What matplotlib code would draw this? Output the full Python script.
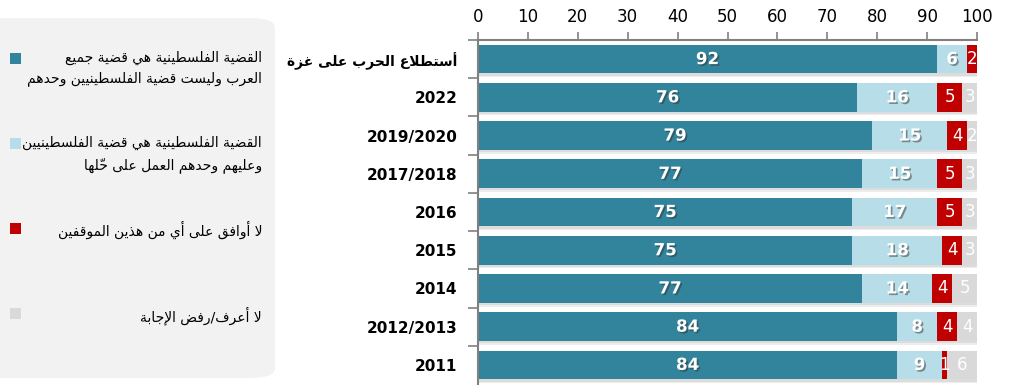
import matplotlib
matplotlib.use('Agg')
import matplotlib.pyplot as plt
from matplotlib import patheffects
from matplotlib.patches import FancyBboxPatch, Rectangle

# data (percent)
categories = ['أستطلاع الحرب على غزة', '2022', '2019/2020', '2017/2018', '2016',
              '2015', '2014', '2012/2013', '2011']
whole_arab = [92, 76, 79, 77, 75, 75, 77, 84, 84]
only_palestinian = [6, 16, 15, 15, 17, 18, 14, 8, 9]
neither = [2, 5, 4, 5, 5, 4, 4, 4, 1]
dont_know = [0, 3, 2, 3, 3, 3, 5, 4, 6]
x_ticks = [0, 10, 20, 30, 40, 50, 60, 70, 80, 90, 100]

legend_labels = [
    'القضية الفلسطينية هي قضية جميع\nالعرب وليست قضية الفلسطينيين وحدهم',
    'القضية الفلسطينية هي قضية الفلسطينيين\nوعليهم وحدهم العمل على حلّها',
    'لا أوافق على أي من هذين الموقفين',
    'لا أعرف/رفض الإجابة',
]
colors = ['#31849B', '#B7DEE8', '#C00000', '#D9D9D9']

# matplotlib has no arabic shaping, so map letters to presentation forms
# (isolated code point, number of forms)
FORMS = {
    'ء': (0xFE80, 1), 'آ': (0xFE81, 2), 'أ': (0xFE83, 2), 'إ': (0xFE87, 2),
    'ا': (0xFE8D, 2), 'ب': (0xFE8F, 4), 'ة': (0xFE93, 2), 'ت': (0xFE95, 4),
    'ث': (0xFE99, 4), 'ج': (0xFE9D, 4), 'ح': (0xFEA1, 4), 'خ': (0xFEA5, 4),
    'د': (0xFEA9, 2), 'ذ': (0xFEAB, 2), 'ر': (0xFEAD, 2), 'ز': (0xFEAF, 2),
    'س': (0xFEB1, 4), 'ش': (0xFEB5, 4), 'ص': (0xFEB9, 4), 'ض': (0xFEBD, 4),
    'ط': (0xFEC1, 4), 'ظ': (0xFEC5, 4), 'ع': (0xFEC9, 4), 'غ': (0xFECD, 4),
    'ف': (0xFED1, 4), 'ق': (0xFED5, 4), 'ك': (0xFED9, 4), 'ل': (0xFEDD, 4),
    'م': (0xFEE1, 4), 'ن': (0xFEE5, 4), 'ه': (0xFEE9, 4), 'و': (0xFEED, 2),
    'ى': (0xFEEF, 2), 'ي': (0xFEF1, 4),
}
LAM_ALEF = {'آ': 0xFEF5, 'أ': 0xFEF7, 'إ': 0xFEF9, 'ا': 0xFEFB}
MARKS = set('\u064B\u064C\u064D\u064E\u064F\u0650\u0651\u0652')


def joins_next(tok):
    if tok[0] == 'LA':
        return False
    return tok[0] in FORMS and FORMS[tok[0]][1] == 4


def joins_prev(tok):
    if tok[0] == 'LA':
        return True
    return tok[0] in FORMS and FORMS[tok[0]][1] >= 2


def shape_line(text):
    clusters = []
    for ch in text:
        if ch in MARKS and clusters:
            clusters[-1][2] += ch
        else:
            clusters.append([ch, '', ''])
    toks = []
    i = 0
    while i < len(clusters):
        c = clusters[i]
        if c[0] == 'ل' and i + 1 < len(clusters) and clusters[i + 1][0] in LAM_ALEF:
            toks.append(['LA', clusters[i + 1][0], c[2] + clusters[i + 1][2]])
            i += 2
        else:
            toks.append(c)
            i += 1
    out = []
    for i, t in enumerate(toks):
        prev = i > 0 and joins_next(toks[i - 1]) and joins_prev(t)
        nxt = i < len(toks) - 1 and joins_next(t) and joins_prev(toks[i + 1])
        if t[0] == 'LA':
            g = chr(LAM_ALEF[t[1]] + (1 if prev else 0))
        elif t[0] in FORMS:
            base, n = FORMS[t[0]]
            if n == 4:
                idx = {(False, False): 0, (True, False): 1,
                       (False, True): 2, (True, True): 3}[(prev, nxt)]
            elif n == 2:
                idx = 1 if prev else 0
            else:
                idx = 0
            g = chr(base + idx)
        else:
            g = t[0]
        out.append(g + t[2])
    return ''.join(reversed(out))


def ar(text):
    # only arabic text gets shaped and reversed, years stay as they are
    if not any(ch in FORMS for ch in text):
        return text
    return '\n'.join(shape_line(l) for l in text.split('\n'))


plt.rcParams['font.family'] = ['DejaVu Sans']

fig = plt.figure(figsize=(10.22, 3.86), dpi=100)

# legend panel on the left
panel = FancyBboxPatch((-20 / 1022, 8 / 386), 295 / 1022, 360 / 386,
                       boxstyle='round,pad=0,rounding_size=0.025',
                       transform=fig.transFigure, facecolor='#F2F2F2',
                       edgecolor='none', zorder=0)
fig.patches.append(panel)

legend_y = [58, 143, 228, 313]
for lab, col, yy in zip(legend_labels, colors, legend_y):
    fy = 1 - yy / 386
    fig.patches.append(Rectangle((10 / 1022, fy - 5.5 / 386), 11 / 1022, 11 / 386,
                                 transform=fig.transFigure, facecolor=col,
                                 edgecolor='none', zorder=1))
    fig.text(262 / 1022, fy + 7 / 386, ar(lab), ha='right', va='top',
             fontsize=10, color='#000000', linespacing=1.55,
             multialignment='right', zorder=2)

ax = fig.add_axes([478 / 1022, 2 / 386, 499 / 1022, 344 / 386])
ax.set_zorder(3)
y = list(range(len(categories)))
series = [whole_arab, only_palestinian, neither, dont_know]
totals = [sum(v) for v in zip(*series)]

# soft drop shadow under every bar
ax.barh([p + 0.1 for p in y], totals, height=0.75, color='#000000', alpha=0.07, zorder=1)
ax.barh([p + 0.06 for p in y], totals, height=0.75, color='#000000', alpha=0.07, zorder=1)

shadow = [patheffects.withSimplePatchShadow(offset=(1.2, -1.2), shadow_rgbFace='#333333', alpha=0.5)]
lefts = [0] * len(categories)
for k, (vals, col) in enumerate(zip(series, colors)):
    ax.barh(y, vals, left=lefts, height=0.75, color=col, zorder=2)
    for i, v in enumerate(vals):
        if v <= 0:
            continue
        cx = lefts[i] + v / 2
        if k < 2:
            ax.text(cx, y[i], str(v), ha='center', va='center', color='white',
                    fontsize=12, fontweight='bold', path_effects=shadow,
                    zorder=4, clip_on=True)
        else:
            ax.text(cx, y[i], str(v), ha='center', va='center', color='white',
                    fontsize=12, zorder=4, clip_on=True)
    lefts = [a + b for a, b in zip(lefts, vals)]

ax.set_xlim(0, 100)
ax.set_ylim(len(categories) - 0.5, -0.5)
ax.xaxis.tick_top()
ax.set_xticks(x_ticks)
ax.tick_params(axis='x', direction='out', length=6, width=1.2, color='#808080',
               labelsize=12, pad=4, labelcolor='#000000')
ax.set_yticks(y)
ax.set_yticklabels([ar(c) for c in categories], fontweight='bold', fontsize=11)
ax.get_yticklabels()[0].set_fontsize(10)
ax.set_yticks([p + 0.5 for p in y[:-1]] + [-0.5], minor=True)
ax.tick_params(axis='y', which='major', length=0, pad=15)
ax.tick_params(axis='y', which='minor', length=7, width=1.2, color='#808080', direction='out')

for s in ['right', 'bottom']:
    ax.spines[s].set_visible(False)
ax.spines['top'].set_color('#808080')
ax.spines['top'].set_linewidth(1.5)
ax.spines['left'].set_color('#808080')
ax.spines['left'].set_linewidth(1.5)
ax.set_facecolor('none')

fig.savefig('out.png', dpi=100)
